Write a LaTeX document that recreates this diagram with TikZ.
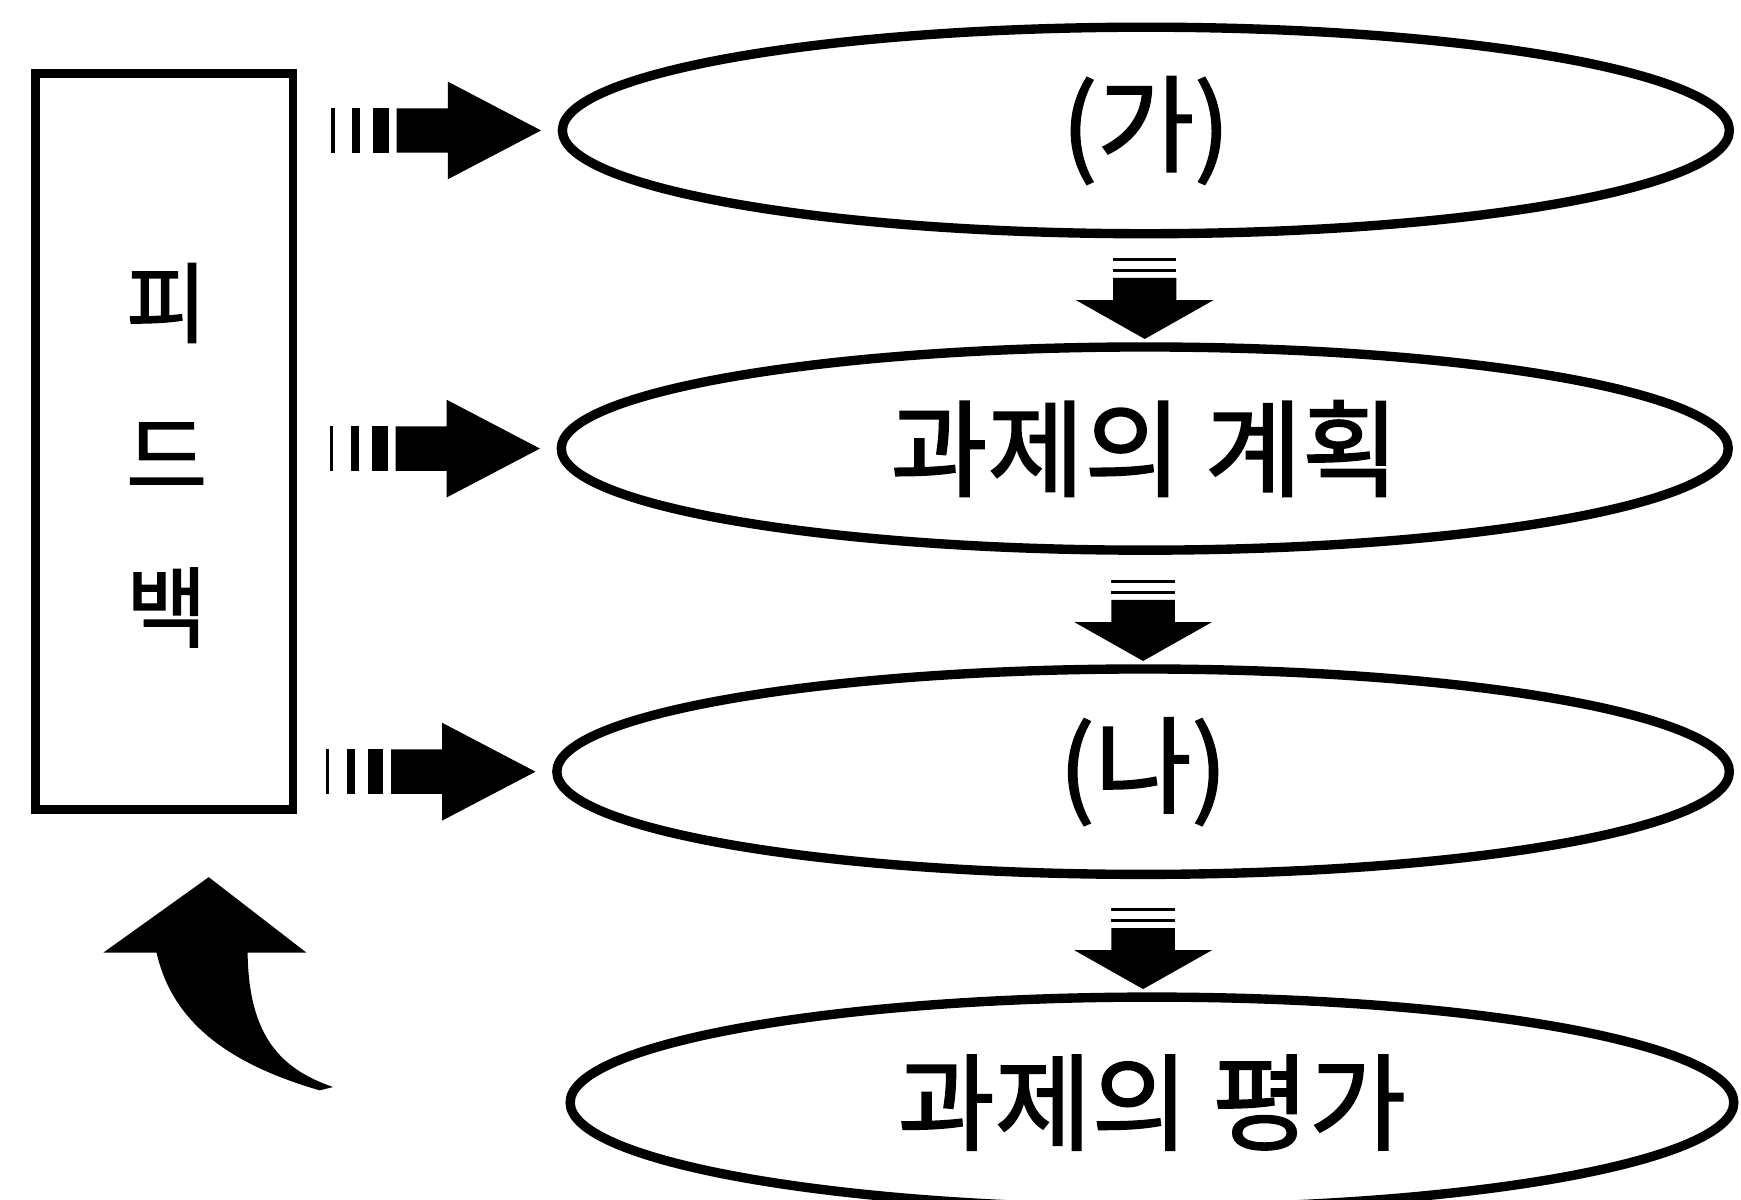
\documentclass[tikz,border=0pt]{standalone}
\usepackage{fontspec}
\setmainfont{Noto Sans CJK KR}[UprightFeatures={FakeBold=1.6}]
\usetikzlibrary{shapes.geometric, calc}

\begin{document}
\begin{tikzpicture}[
    stage/.style={draw, ellipse, line width=2.4pt, minimum width=10.51cm,
                  minimum height=1.86cm, inner sep=0pt,
                  font=\fontsize{27pt}{32pt}\selectfont},
    fbframe/.style={draw, rectangle, line width=2.2pt, minimum width=2.32cm,
                    minimum height=6.63cm},
    fblabel/.style={align=center, font=\fontsize{22.5pt}{39pt}\selectfont},
    pics/feedarrow/.style={code={
        \fill (0,0) -- (-0.84,0.44) -- (-0.84,0.2) -- (-1.3,0.2) -- (-1.3,-0.2)
              -- (-0.84,-0.2) -- (-0.84,-0.44) -- cycle;
        \fill (-1.37,-0.2) rectangle (-1.51,0.2);
        \fill (-1.63,-0.2) rectangle (-1.70,0.2);
        \fill (-1.86,-0.2) rectangle (-1.89,0.2);}},
    pics/steparrow/.style={code={
        \fill (0,0) -- (0.62,0.35) -- (0.285,0.35) -- (0.285,0.55) -- (-0.285,0.55)
              -- (-0.285,0.35) -- (-0.62,0.35) -- cycle;
        \fill (-0.285,0.600) rectangle (0.285,0.627);
        \fill (-0.285,0.700) rectangle (0.285,0.727);}}]
  \useasboundingbox (0,0) rectangle (15.68,-10.80);

  \node[fbframe] (fbox) at (1.48,-3.975) {};
  \node[fblabel] (fbtext) at (1.50,-4.10) {피\\드\\백};

  \node[stage] (plan0) at (10.32,-1.175) {(가)};
  \node[stage, minimum height=1.83cm] (plan) at (10.31,-4.04) {과제의 계획};
  \node[stage, minimum width=10.56cm, minimum height=1.85cm] (run) at (10.295,-6.95) {(나)};
  \node[stage, minimum width=10.48cm, minimum height=1.90cm] (eval) at (10.375,-9.93) {과제의 평가};

  \pic at ($(plan0.west)+(-0.15,0)$) {feedarrow};
  \pic at ($(plan.west)+(-0.15,0)$) {feedarrow};
  \pic at ($(run.west)+(-0.15,0)$) {feedarrow};

  \pic at ($(plan.north)+(0,0.03)$) {steparrow};
  \pic at ($(run.north)+(0,0.03)$) {steparrow};
  \pic at ($(eval.north)+(-0.08,0.03)$) {steparrow};

  \coordinate (back) at (1.88,-7.90);
  \fill (back) -- (2.76,-8.58) -- (2.23,-8.58) .. controls (2.24,-9.30) and (2.50,-9.62) .. (3.00,-9.79)
        -- (2.88,-9.82) .. controls (2.05,-9.58) and (1.55,-9.20) .. (1.41,-8.58) -- (0.93,-8.58) -- cycle;
\end{tikzpicture}
\end{document}
